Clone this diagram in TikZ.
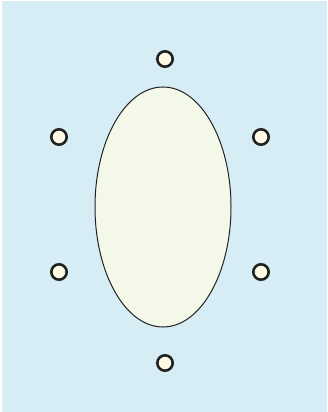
\documentclass[tikz,border=0pt]{standalone}
\usetikzlibrary{shapes.geometric}
\definecolor{bgblue}{HTML}{D7EDF6}
\definecolor{ellfill}{HTML}{F4F8E9}
\definecolor{dotfill}{HTML}{FDFBE6}
\definecolor{ink}{HTML}{222222}
\tikzset{
  dot/.style={circle, draw=ink, fill=dotfill, line width=2.6pt, minimum size=15.4pt, inner sep=0pt},
  bigell/.style={ellipse, draw=ink, fill=ellfill, line width=1pt, minimum width=136pt, minimum height=240pt, inner sep=0pt}
}
\begin{document}
\begin{tikzpicture}[x=1pt,y=-1pt]
\useasboundingbox (0,0) rectangle (327,412);
\fill[white] (0,0) rectangle (327,412);
\fill[bgblue] (2,1) rectangle (327,412);
\node[bigell] (e) at (163,207) {};
\node[dot] (t) at (165,59) {};
\node[dot] (ul) at (59,137) {};
\node[dot] (ur) at (261,137) {};
\node[dot] (ll) at (59,272) {};
\node[dot] (lr) at (261,272) {};
\node[dot] (b) at (165,363) {};
\end{tikzpicture}
\end{document}
